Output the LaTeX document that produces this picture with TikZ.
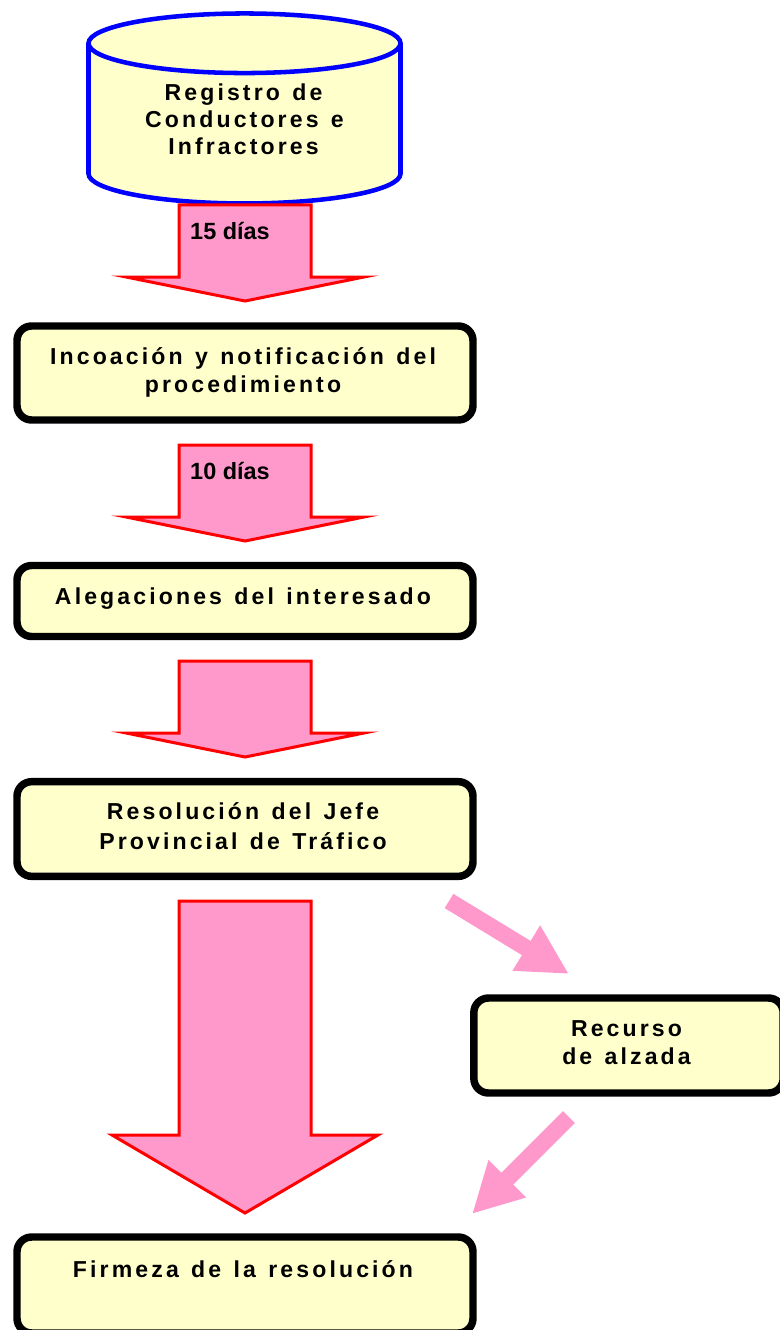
\documentclass[tikz,border=0pt]{standalone}
\usepackage{fontspec}
\setmainfont{Liberation Sans}
\newfontfamily\spacedfont[LetterSpace=13.5,WordSpace=1.3]{Liberation Sans}
\usetikzlibrary{calc, arrows.meta, shapes.geometric}
\definecolor{boxyellow}{HTML}{FFFFCC}
\definecolor{arrowpink}{HTML}{FF99CC}
\newcommand{\lastline}[1]{\rule[-#1]{0pt}{0pt}}
\newcommand{\pad}[1][3pt]{\hspace*{#1}}
\tikzset{
    boxnode/.style={draw=black, fill=boxyellow, line width=5.6pt, rounded corners=11pt, inner sep=0pt,
        minimum width=342pt, align=center, font=\spacedfont\bfseries\fontsize{17.3}{21}\selectfont},
    dbnode/.style={cylinder, shape border rotate=90, draw=blue, fill=boxyellow, line width=3.4pt, aspect=0.3,
        minimum width=234pt, minimum height=142.5pt, inner sep=0pt, align=center,
        font=\spacedfont\bfseries\fontsize{17.3}{20.5}\selectfont},
    daynode/.style={inner sep=0pt, font=\bfseries\fontsize{17.6}{21}\selectfont},
    blockarrow/.style 2 args={draw=red, fill=arrowpink, line width=2.25pt, miter limit=40,
        to path={($(\tikztostart)+(-66,0)$) -- ($(\tikztotarget)+(-66,-#1)$) -- ($(\tikztotarget)+(-#2,-#1)$)
            -- (\tikztotarget) -- ($(\tikztotarget)+(#2,-#1)$) -- ($(\tikztotarget)+(66,-#1)$)
            -- ($(\tikztostart)+(66,0)$) -- cycle}},
    pinkarrow/.style={draw=arrowpink, line width=12.5pt, -{Triangle[length=37.5pt, width=37pt]}},
}
\begin{document}
\begin{tikzpicture}[x=0.75pt, y=-0.75pt]
    \useasboundingbox (0,0) rectangle (779,1330);

    \node[dbnode] (REG) at (244.5,124.5) {Registro de\pad[1.5pt]\\Conductores e\pad[1.5pt]\\Infractores\pad[1.5pt]\lastline{7.8pt}};
    \node[boxnode, minimum height=70.5pt] (INC) at (245,373) {Incoación y notificación del\pad\\procedimiento\pad\lastline{5.1pt}};
    \node[boxnode, minimum height=53.25pt] (ALE) at (245,601) {Alegaciones del interesado\pad\lastline{6.6pt}};
    \node[boxnode, minimum height=71pt] (RES) at (245,829) {Resolución del Jefe\pad\\[1.5pt]Provincial de Tráfico\pad\lastline{4.8pt}};
    \node[boxnode, minimum width=232pt, minimum height=71.25pt] (REC) at (628.5,1045.5) {Recurso\pad\\de alzada\pad\lastline{4.8pt}};
    \node[boxnode, minimum height=72pt] (FIR) at (245,1285) {Firmeza de la resolución\pad\\[3pt]\mbox{}};

    \coordinate (A1s) at (245,205);
    \coordinate (A1e) at (245,301);
    \coordinate (A2s) at (245,445);
    \coordinate (A2e) at (245,541);
    \coordinate (A3s) at (245,661);
    \coordinate (A3e) at (245,757);
    \coordinate (A4s) at (245,901);
    \coordinate (A4e) at (245,1213);
    \coordinate (P1s) at (449,901);
    \coordinate (P1e) at (569,974);
    \coordinate (P2s) at (569,1117);
    \coordinate (P2e) at (472,1214);

    \draw[blockarrow={24}{119}] (A1s) to (A1e);
    \draw[blockarrow={24}{119}] (A2s) to (A2e);
    \draw[blockarrow={24}{119}] (A3s) to (A3e);
    \draw[blockarrow={78}{133}] (A4s) to (A4e);

    \draw[pinkarrow] (P1s) -- (P1e);
    \draw[pinkarrow] (P2s) -- (P2e);

    \node[daynode] (D15) at (230,231) {15 días};
    \node[daynode] (D10) at (230,471) {10 días};
\end{tikzpicture}
\end{document}
